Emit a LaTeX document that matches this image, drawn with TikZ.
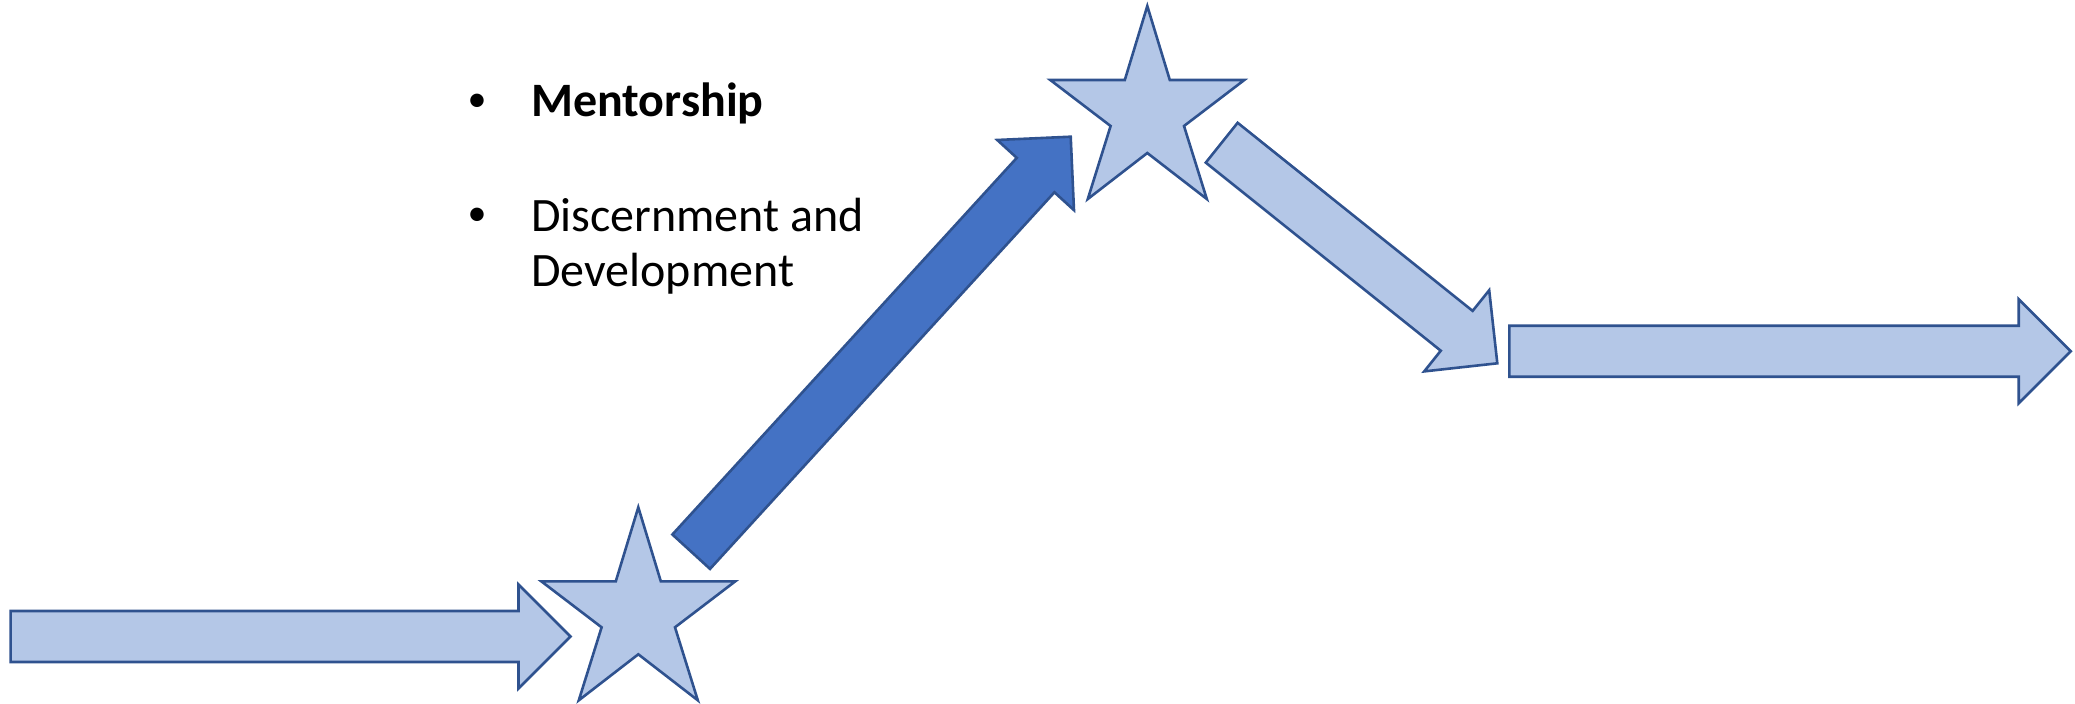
\documentclass[tikz,border=0pt]{standalone}
\usepackage{fontspec}
\setmainfont{Carlito}
\usetikzlibrary{calc}
\definecolor{lightfill}{HTML}{B4C7E7}
\definecolor{darkfill}{HTML}{4472C4}
\definecolor{edgeblue}{HTML}{2F528F}
\tikzset{
  lightshape/.style={fill=lightfill, draw=edgeblue, line width=2.6pt, line join=miter},
  darkshape/.style={fill=darkfill, draw=edgeblue, line width=2.6pt, line join=miter},
  bullettext/.style={anchor=base west, inner sep=0pt, font=\fontsize{48}{55}\selectfont, align=left},
  bulletmark/.style={anchor=base, inner sep=0pt, font=\fontsize{38}{45}\selectfont},
  star5/.pic={\draw[lightshape] (0,0) -- (22.5,74) -- (97,74) -- (36.7,120) -- (59.5,193) -- (0,147)
     -- (-59.5,193) -- (-36.7,120) -- (-97,74) -- (-22.5,74) -- cycle;}
}
\newcommand\myblockarrow[3]{%
  \path ($(#3)!52pt!(#2)$) coordinate (hb);
  \draw[#1] ($(#2)!25.5pt!90:(#3)$) -- ($(hb)!25.5pt!-90:(#2)$) -- ($(hb)!52pt!-90:(#2)$) -- (#3)
    -- ($(hb)!52pt!90:(#2)$) -- ($(hb)!25.5pt!90:(#2)$) -- ($(#2)!25.5pt!-90:(#3)$) -- cycle;}
\begin{document}
\begin{tikzpicture}[x=1pt,y=-1pt]
\useasboundingbox (0,0) rectangle (2075,704);
% left arrow
\coordinate (la-tail) at (10.6,636.5);
\coordinate (la-tip) at (570.5,636.5);
\myblockarrow{lightshape}{la-tail}{la-tip}
% right arrow
\coordinate (ra-tail) at (1509.3,351.2);
\coordinate (ra-tip) at (2070.7,351.2);
\myblockarrow{lightshape}{ra-tail}{ra-tip}
% dark diagonal arrow
\coordinate (da-tail) at (691.2,551.7);
\coordinate (da-tip) at (1070.7,136.7);
\myblockarrow{darkshape}{da-tail}{da-tip}
% light diagonal arrow
\coordinate (ld-tail) at (1221.7,142.7);
\coordinate (ld-tip) at (1497.3,363.3);
\myblockarrow{lightshape}{ld-tail}{ld-tip}
% stars
\pic (s1) at (638.3,507.3) {star5};
\pic (s2) at (1147.3,6) {star5};
% text
\node[bulletmark] (b1) at (477,111) {•};
\node[bullettext] (t1) at (531,116) {\textbf{Mentorship}};
\node[bulletmark] (b2) at (477,225) {•};
\node[bullettext] (t2) at (531,286) {Discernment and\\Development};
\end{tikzpicture}
\end{document}
